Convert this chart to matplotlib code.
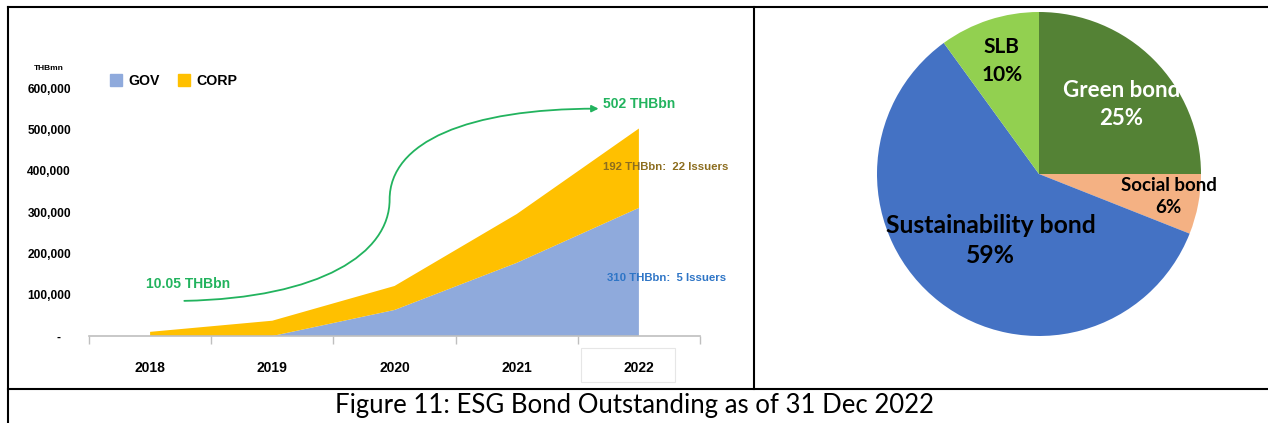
import matplotlib
matplotlib.use("Agg")
import matplotlib.pyplot as plt
from matplotlib.path import Path
from matplotlib.patches import FancyArrowPatch, Patch, Rectangle
from matplotlib.lines import Line2D

# outstanding ESG bonds, THB mn
years       = ["2018", "2019", "2020", "2021", "2022"]
gov         = [0, 0, 63000, 177000, 310000]
corp        = [10050, 37000, 58000, 118000, 192000]
issuers     = {"GOV": 5, "CORP": 22}

# share by bond type, 2022
bond_types  = ["Green bond", "Social bond", "Sustainability bond", "SLB"]
bond_share  = [25, 6, 59, 10]
bond_colors = ["#548235", "#F4B183", "#4472C4", "#92D050"]

narrow  = ["Liberation Sans Narrow", "Liberation Sans", "DejaVu Sans"]
calibri = ["Lato", "DejaVu Sans"]
green   = "#22b35e"

W, H = 1268, 423
fig = plt.figure(figsize=(W / 100, H / 100), dpi=100)

def fx(px):
    return px / W

def fy(py):
    return 1 - py / H

# ---- left: stacked area -------------------------------------------------
ax = fig.add_axes([fx(89), fy(336), fx(700 - 89), (336 - 88) / H])
x = list(range(len(years)))
ax.stackplot(x, gov, corp, colors=["#8FAADC", "#FFC000"], linewidth=0)
ax.set_xlim(-0.5, len(years) - 0.5)
ax.set_ylim(0, 600000)

yt = list(range(0, 600001, 100000))
ax.set_yticks(yt)
ax.set_yticklabels(["-   "] + [f"{v:,}" for v in yt[1:]])
ax.set_xticks(x)
ax.set_xticklabels(years)
ax.set_xticks([i - 0.5 for i in range(len(years) + 1)], minor=True)
ax.tick_params(axis="y", length=0, pad=13)
ax.tick_params(axis="x", which="major", length=0, pad=18)
ax.tick_params(axis="x", which="minor", length=6, color="#BFBFBF", width=1)
for lab in ax.get_yticklabels():
    lab.set_fontfamily(narrow)
    lab.set_fontweight("bold")
    lab.set_fontsize(8.6)
for lab in ax.get_xticklabels():
    lab.set_fontfamily(narrow)
    lab.set_fontweight("bold")
    lab.set_fontsize(10)
for s in ["top", "right", "left"]:
    ax.spines[s].set_visible(False)
ax.spines["bottom"].set_color("#BFBFBF")
ax.spines["bottom"].set_linewidth(1.2)

# growth arrow from first to last total
tot = [g + c for g, c in zip(gov, corp)]
verts = [(0.28, 85000), (1.4, 92000), (1.96, 200000), (1.96, 330000),
         (1.96, 470000), (2.6, 550000), (3.67, 550000)]
codes = [Path.MOVETO] + [Path.CURVE4] * 6
arrow = FancyArrowPatch(path=Path(verts, codes), arrowstyle="-|>,head_length=4,head_width=2",
                        color=green, lw=1.3)
ax.add_patch(arrow)
ax.text(-0.03, 126000, f"{tot[0] / 1000:.2f} THBbn", color=green, fontsize=10,
        fontweight="bold", family=narrow, va="center", ha="left")
ax.text(3.71, 561000, f"{tot[-1] / 1000:.0f} THBbn", color=green, fontsize=10,
        fontweight="bold", family=narrow, va="center", ha="left", clip_on=False)
ax.text(3.71, 409000, f"{corp[-1] / 1000:.0f} THBbn:  {issuers['CORP']} Issuers",
        color="#8C6D1F", fontsize=8.2, fontweight="bold", family=narrow, va="center")
ax.text(3.74, 140000, f"{gov[-1] / 1000:.0f} THBbn:  {issuers['GOV']} Issuers",
        color="#2E75C6", fontsize=8.2, fontweight="bold", family=narrow, va="center")

fig.text(fx(49), fy(68), "THBmn", fontsize=6, fontweight="bold", family=narrow,
         ha="center", va="center")
handles = [Patch(color="#8FAADC", label="GOV"), Patch(color="#FFC000", label="CORP")]
leg = fig.legend(handles=handles, loc="upper left", bbox_to_anchor=(fx(110), fy(74)),
                 ncol=2, frameon=False, borderpad=0, borderaxespad=0,
                 handlelength=0.85, handleheight=0.85, handletextpad=0.45,
                 columnspacing=1.3, prop={"family": narrow, "weight": "bold", "size": 10.2})

# selected-cell frame around the last year label
fig.add_artist(Rectangle((fx(581), fy(382)), fx(675 - 581), (382 - 348) / H,
                         fill=False, ec="#E6E6E6", lw=0.8))

# ---- right: pie ----------------------------------------------------------
r = 162
pax = fig.add_axes([fx(1039 - r), fy(174 + r), fx(2 * r), 2 * r / H])
pax.pie(bond_share, colors=bond_colors, startangle=90, counterclock=False,
        wedgeprops={"linewidth": 0})
pax.set_xlim(-1, 1)
pax.set_ylim(-1, 1)

label_pos  = [(0.51, 0.43), (0.80, -0.14), (-0.30, -0.41), (-0.23, 0.70)]
label_size = [16, 13.5, 17.8, 15]
label_col  = ["white", "black", "black", "black"]
label_ls   = [1.45, 1.4, 1.4, 1.5]
for name, share, pos, size, col, ls in zip(bond_types, bond_share, label_pos,
                                           label_size, label_col, label_ls):
    pax.text(pos[0], pos[1], f"{name}\n{share}%", ha="center", va="center",
             fontsize=size, fontweight="bold", family=calibri, color=col,
             linespacing=ls)

# ---- table borders and caption ------------------------------------------
lw = 1.5
for (x0, y0, x1, y1) in [(8, 7, W, 7), (8, 7, 8, H), (754, 7, 754, 389), (8, 389, W, 389)]:
    fig.add_artist(Line2D([fx(x0), fx(x1)], [fy(y0), fy(y1)], color="black", lw=lw))

fig.text(0.5, fy(405), "Figure 11: ESG Bond Outstanding as of 31 Dec 2022",
         ha="center", va="center", fontsize=18.5, family=calibri)

fig.savefig("out.png", dpi=100)
